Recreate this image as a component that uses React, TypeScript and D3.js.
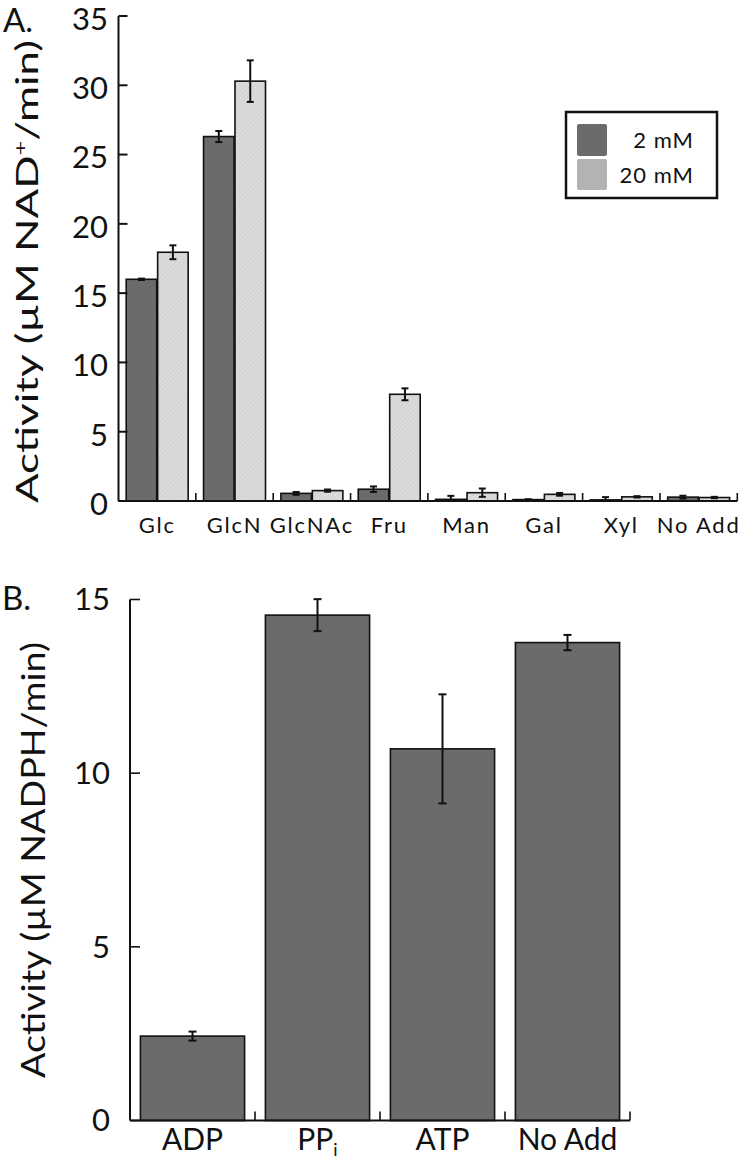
import React from "react";
import * as d3 from "d3";

// ---------- Data ----------
const sugars = ["Glc", "GlcN", "GlcNAc", "Fru", "Man", "Gal", "Xyl", "No Add"];
const series = ["2 mM", "20 mM"];
const act2mM = [16.0, 26.3, 0.55, 0.85, 0.12, 0.1, 0.08, 0.28];
const err2mM = [0.05, 0.4, 0.1, 0.2, 0.25, 0.03, 0.2, 0.1];
const act20mM = [17.95, 30.3, 0.75, 7.7, 0.6, 0.48, 0.3, 0.25];
const err20mM = [0.5, 1.5, 0.08, 0.43, 0.3, 0.1, 0.05, 0.05];
const ticksA = [0, 5, 10, 15, 20, 25, 30, 35];

const additives = ["ADP", "PPi", "ATP", "No Add"];
const actB = [2.43, 14.55, 10.7, 13.76];
const errB = [0.13, 0.46, 1.57, 0.22];
const ticksB = [0, 5, 10, 15];

const FONT = "Lato, 'Open Sans', sans-serif";
const DARK = "#6b6b6b";

export default function App() {
  // Panel A scales
  const xA = d3.scaleBand<string>().domain(sugars).range([118.5, 737.3]).padding(0);
  const xSub = d3
    .scaleBand<string>()
    .domain(series)
    .range([0, xA.bandwidth()])
    .paddingInner(0.03)
    .paddingOuter(0.245);
  const yA = d3.scaleLinear().domain([0, 35]).range([501, 16]);

  // Panel B scales
  const xB = d3.scaleBand<string>().domain(additives).range([130, 630]).padding(0);
  const xBar = d3.scaleBand<string>().domain(["v"]).range([0, xB.bandwidth()]).paddingOuter(0.1).paddingInner(0);
  const yB = d3.scaleLinear().domain([0, 15]).range([1120.5, 599.5]);

  const valsA = [act2mM, act20mM];
  const errsA = [err2mM, err20mM];

  const errBar = (cx: number, y1: number, y2: number, cap: number, key: string) => (
    <g key={key} stroke="#111" strokeWidth={2}>
      <line x1={cx} x2={cx} y1={y1} y2={y2} />
      <line x1={cx - cap} x2={cx + cap} y1={y1} y2={y1} />
      <line x1={cx - cap} x2={cx + cap} y1={y2} y2={y2} />
    </g>
  );

  return (
    <svg
      width={750}
      height={1164}
      style={{ position: "absolute", left: 0, top: 0, background: "#fff" }}
      fontFamily={FONT}
    >
      <defs>
        <pattern id="hatch" width={3} height={3} patternUnits="userSpaceOnUse" patternTransform="rotate(45)">
          <rect width={3} height={3} fill="#dcdcdc" />
          <line x1={0} y1={0} x2={0} y2={3} stroke="#c8c8c8" strokeWidth={1.1} />
        </pattern>
      </defs>

      {/* ================= Panel A ================= */}
      <text x={3} y={32} fontSize={33} fill="#111">A.</text>
      <text
        transform={`translate(38, ${(40 + 503) / 2}) rotate(-90)`}
        textAnchor="middle"
        fontSize={31}
        fill="#111"
        textLength={463}
        lengthAdjust="spacingAndGlyphs"
      >
        Activity (µM NAD<tspan dy={-11} fontSize={18}>+</tspan>
        <tspan dy={11}>/min)</tspan>
      </text>

      {/* bars */}
      {sugars.map((s, i) =>
        series.map((se, j) => {
          const x = (xA(s) as number) + (xSub(se) as number);
          const w = xSub.bandwidth();
          const v = valsA[j][i];
          return (
            <rect
              key={`a-${s}-${se}`}
              x={x}
              y={yA(v)}
              width={w}
              height={yA(0) - yA(v)}
              fill={j === 0 ? DARK : "url(#hatch)"}
              stroke="#111"
              strokeWidth={1.6}
            />
          );
        })
      )}
      {/* error bars */}
      {sugars.map((s, i) =>
        series.map((se, j) => {
          const cx = (xA(s) as number) + (xSub(se) as number) + xSub.bandwidth() / 2;
          const v = valsA[j][i];
          const e = errsA[j][i];
          return errBar(cx, yA(v + e), yA(Math.max(0, v - e)), 3.5, `ea-${s}-${se}`);
        })
      )}

      {/* axes A */}
      <line x1={xA.range()[0]} x2={xA.range()[0]} y1={yA(35)} y2={yA(0)} stroke="#111" strokeWidth={2} />
      <line x1={xA.range()[0]} x2={xA.range()[1]} y1={yA(0)} y2={yA(0)} stroke="#111" strokeWidth={2} />
      {ticksA.map((t) => (
        <g key={`ta-${t}`}>
          <line x1={xA.range()[0]} x2={xA.range()[0] + 9} y1={yA(t)} y2={yA(t)} stroke="#111" strokeWidth={2} />
          <text x={108} y={yA(t) + 3} dy="0.35em" textAnchor="end" fontSize={31} fill="#111">
            {t}
          </text>
        </g>
      ))}
      {sugars.slice(1).map((s) => (
        <line key={`xt-${s}`} x1={xA(s)} x2={xA(s)} y1={yA(0)} y2={yA(0) - 8} stroke="#111" strokeWidth={1.6} />
      ))}
      <line x1={xA.range()[1]} x2={xA.range()[1]} y1={yA(0)} y2={yA(0) - 8} stroke="#111" strokeWidth={1.6} />
      {sugars.map((s) => (
        <text
          key={`xl-${s}`}
          x={(xA(s) as number) + xA.bandwidth() / 2}
          y={533}
          textAnchor="middle"
          fontSize={22}
          letterSpacing={1.8}
          fill="#111"
        >
          {s}
        </text>
      ))}

      {/* legend */}
      <rect x={566} y={112} width={151} height={86} fill="#fff" stroke="#111" strokeWidth={2.5} />
      <rect x={577} y={124} width={30} height={32} rx={2} fill={DARK} />
      <rect x={577} y={159} width={30} height={31} rx={2} fill="#b3b3b3" />
      <text x={694} y={148} textAnchor="end" fontSize={22} fill="#111" letterSpacing={1}>2 mM</text>
      <text x={694} y={183} textAnchor="end" fontSize={22} fill="#111" letterSpacing={1}>20 mM</text>

      {/* ================= Panel B ================= */}
      <text x={2} y={610} fontSize={33} fill="#111">B.</text>
      <text
        transform={`translate(45, ${(643 + 1077) / 2}) rotate(-90)`}
        textAnchor="middle"
        fontSize={32}
        fill="#111"
        textLength={436}
        lengthAdjust="spacingAndGlyphs"
      >
        Activity (µM NADPH/min)
      </text>

      {additives.map((a, i) => {
        const x = (xB(a) as number) + (xBar("v") as number);
        const w = xBar.bandwidth();
        return (
          <rect
            key={`b-${a}`}
            x={x}
            y={yB(actB[i])}
            width={w}
            height={yB(0) - yB(actB[i])}
            fill={DARK}
            stroke="#111"
            strokeWidth={1.6}
          />
        );
      })}
      {additives.map((a, i) => {
        const cx = (xB(a) as number) + xB.bandwidth() / 2;
        return errBar(cx, yB(actB[i] + errB[i]), yB(actB[i] - errB[i]), 4, `eb-${a}`);
      })}

      <line x1={xB.range()[0]} x2={xB.range()[0]} y1={yB(15)} y2={yB(0)} stroke="#111" strokeWidth={2} />
      <line x1={xB.range()[0]} x2={xB.range()[1]} y1={yB(0)} y2={yB(0)} stroke="#111" strokeWidth={2} />
      {ticksB.map((t) => (
        <g key={`tb-${t}`}>
          <line x1={xB.range()[0]} x2={xB.range()[0] + 10} y1={yB(t)} y2={yB(t)} stroke="#111" strokeWidth={1.6} />
          <text x={110} y={yB(t)} dy="0.35em" textAnchor="end" fontSize={31} fill="#111">
            {t}
          </text>
        </g>
      ))}
      {additives.map((a) => (
        <line
          key={`xbt-${a}`}
          x1={(xB(a) as number) + xB.bandwidth()}
          x2={(xB(a) as number) + xB.bandwidth()}
          y1={yB(0)}
          y2={yB(0) - 9}
          stroke="#111"
          strokeWidth={1.6}
        />
      ))}
      {additives.map((a) => (
        <text
          key={`xbl-${a}`}
          x={(xB(a) as number) + xB.bandwidth() / 2}
          y={1150}
          textAnchor="middle"
          fontSize={30}
          fill="#111"
        >
          {a === "PPi" ? (
            <>
              PP<tspan dy={6} fontSize={18}>i</tspan>
            </>
          ) : (
            a
          )}
        </text>
      ))}
    </svg>
  );
}
